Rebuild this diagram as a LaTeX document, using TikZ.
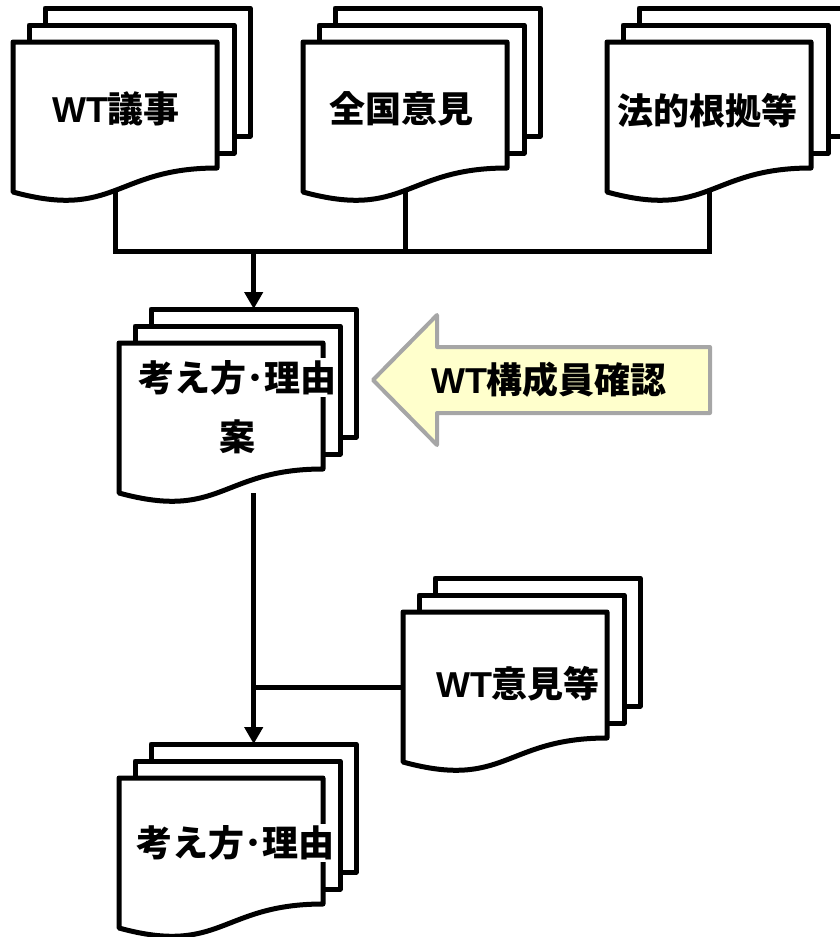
\documentclass[tikz,border=0pt]{standalone}
\usepackage{fontspec}
\newfontfamily\jp{Noto Sans CJK JP}
\newfontfamily\lat{Liberation Sans}
\usetikzlibrary{arrows.meta}
\pgfdeclarelayer{bg}
\pgfsetlayers{bg,main}
\newcommand\hlw[1]{{\setlength{\fboxsep}{2pt}\colorbox{white}{#1}}}
\newcommand\wt{{\lat\bfseries WT}}
\definecolor{arrowfill}{HTML}{FFFFCC}
\definecolor{arrowline}{HTML}{A6A6A6}
% multi-document: name, x of front sheet, y of front sheet top
\newcommand\mdoc[3]{%
  \draw[sheet] (#2+32,#3-34) rectangle ++(205,128);
  \draw[sheet] (#2+16,#3-17) rectangle ++(205,128);
  \draw[sheet] (#2,#3) -- (#2+204,#3) -- (#2+204,#3+126)
     .. controls (#2+102,#3+126) and (#2+102,#3+178) .. (#2,#3+150) -- cycle;
  \node[anchor=north west,inner sep=0,minimum width=205,minimum height=128] (#1-b) at (#2+32,#3-34) {};
  \node[anchor=north west,inner sep=0,minimum width=204,minimum height=150] (#1) at (#2,#3) {};
}
\begin{document}
\begin{tikzpicture}[x=1pt,y=-1pt,
  sheet/.style={draw=black,fill=white,line width=5pt,line join=round},
  conn/.style={draw=black,line width=5pt,line join=miter},
  arrconn/.style={conn,-{Triangle[width=18pt,length=17pt]}},
  lbl/.style={font=\jp\bfseries\fontsize{36}{59}\selectfont,fill=white,inner sep=2pt},
  lbl2/.style={font=\jp\bfseries\fontsize{36}{59}\selectfont,inner sep=0pt,align=center},
  bigarrow/.style={draw=arrowline,fill=arrowfill,line width=4pt,line join=round}]
\useasboundingbox (0,0) rectangle (839,937);
\mdoc{d1}{13}{42}
\mdoc{d2}{303}{42}
\mdoc{d3}{607}{42}
\mdoc{m}{119}{343}
\mdoc{w}{403}{612}
\mdoc{f}{119}{778}
\coordinate (bus) at (0,251);
% labels
\node[lbl] (t1) at (116,109) {\wt 議事};
\node[lbl] (t2) at (401,109) {全国意見};
\node[lbl] (t3) at (707,111) {法的根拠等};
\node[lbl2] (tm) at (237,406) {\hlw{考え方･理由}\\案};
\node[lbl] (tw) at (518,684) {\wt 意見等};
\node[lbl] (tf) at (235,843) {考え方･理由};
% big arrow
\draw[bigarrow] (710,347) -- (437,347) -- (437,315) -- (373,380) -- (437,445) -- (437,413) -- (710,413) -- cycle;
\node[font=\jp\bfseries\fontsize{36}{40}\selectfont,inner sep=0pt] (ta) at (549,380) {\wt 構成員確認};
% connectors
\begin{pgfonlayer}{bg}
\draw[conn] (d1.south) -- (d1.south |- bus) -- (d3.south |- bus) -- (d3.south);
\draw[conn] (d2.south) -- (d2.south |- bus);
\draw[arrconn] (bus -| m-b.north) -- (m-b.north);
\draw[arrconn] (m-b.north |- m.south) -- (f-b.north);
\draw[conn] (w.west) -- (w.west -| m-b.north);
\end{pgfonlayer}
\end{tikzpicture}
\end{document}
